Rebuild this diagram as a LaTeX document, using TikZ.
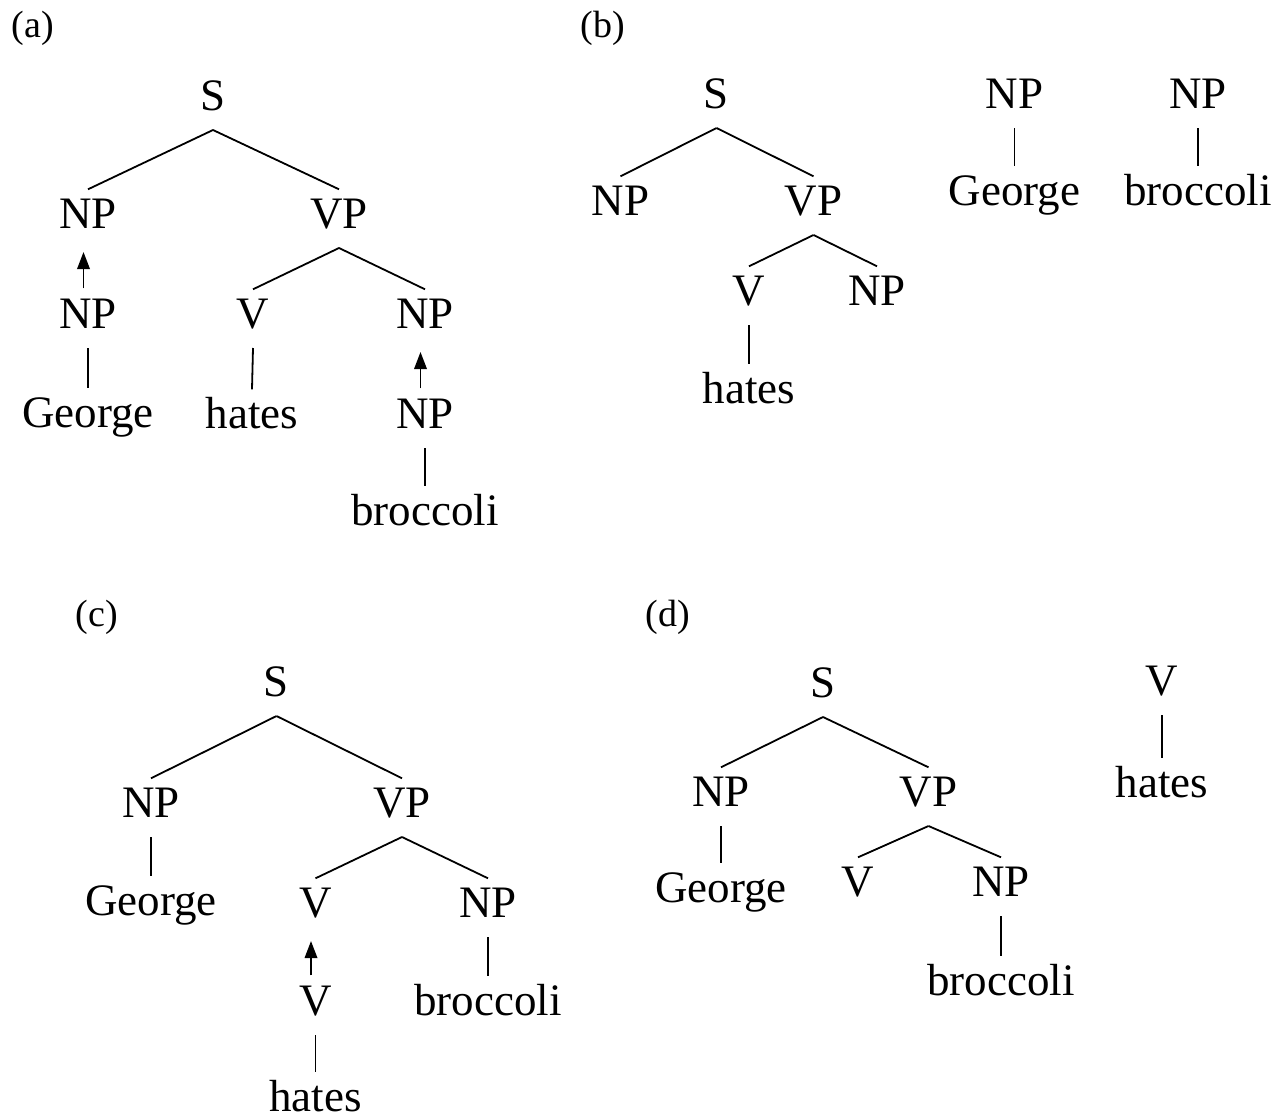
\documentclass[tikz,border=0pt]{standalone}
\usepackage{fontspec}
\setmainfont{Liberation Serif}
\usetikzlibrary{arrows.meta}
\tikzset{
  lab/.style={font=\fontsize{45}{50}\selectfont, inner sep=0pt, text height=29.5pt, text depth=0pt, anchor=base},
  plab/.style={font=\fontsize{38}{44}\selectfont, inner sep=0pt, anchor=base},
  tline/.style={line width=1.8pt},
  mvarrow/.style={line width=1.8pt, -{Triangle[length=17pt,width=12.5pt]}},
}
\newcommand\tbr[2]{\draw[tline] ([yshift=-20pt]#1.base) -- ([yshift=9pt]#2.north);}
\newcommand\tmv[2]{\draw[mvarrow] ([xshift=-4.5pt,yshift=10pt]#1.north) -- ([xshift=-4.5pt,yshift=-24pt]#2.base);}
\begin{document}
\begin{tikzpicture}[x=1pt,y=-1pt]
\useasboundingbox (0,0) rectangle (1274,1119);
% ---------- (a) ----------
\node[plab] (la) at (33,37) {(a)};
\node[lab] (Sa) at (213,110) {S};
\node[lab] (NPa1) at (88,228) {NP};
\node[lab] (VPa) at (339,228) {VP};
\node[lab] (NPa2) at (88,328) {NP};
\node[lab] (Va) at (253,328) {V};
\node[lab] (NPa3) at (425,328) {NP};
\node[lab] (Georgea) at (88,427) {George};
\node[lab] (hatesa) at (252,428) {hates};
\node[lab] (NPa4) at (425,428) {NP};
\node[lab] (broccolia) at (425,525) {broccoli};
\tbr{Sa}{NPa1}
\tbr{Sa}{VPa}
\tmv{NPa2}{NPa1}
\tbr{VPa}{Va}
\tbr{VPa}{NPa3}
\tbr{NPa2}{Georgea}
\tbr{Va}{hatesa}
\tmv{NPa4}{NPa3}
\tbr{NPa4}{broccolia}
% ---------- (b) ----------
\node[plab] (lb) at (603,37) {(b)};
\node[lab] (Sb) at (716.5,108) {S};
\node[lab] (NPb1) at (620.5,215) {NP};
\node[lab] (VPb) at (813.5,215) {VP};
\node[lab] (Vb) at (749,305) {V};
\node[lab] (NPb2) at (877,305) {NP};
\node[lab] (hatesb) at (749,403) {hates};
\node[lab] (NPb3) at (1014.5,108) {NP};
\node[lab] (Georgeb) at (1014.5,205) {George};
\node[lab] (NPb4) at (1198,108) {NP};
\node[lab] (broccolib) at (1198,205) {broccoli};
\tbr{Sb}{NPb1}
\tbr{Sb}{VPb}
\tbr{VPb}{Vb}
\tbr{VPb}{NPb2}
\tbr{Vb}{hatesb}
\tbr{NPb3}{Georgeb}
\tbr{NPb4}{broccolib}
% ---------- (c) ----------
\node[plab] (lc) at (97,626) {(c)};
\node[lab] (Sc) at (276.5,696) {S};
\node[lab] (NPc1) at (151,817) {NP};
\node[lab] (VPc) at (402,817) {VP};
\node[lab] (Georgec) at (151,915) {George};
\node[lab] (Vc1) at (315.5,917) {V};
\node[lab] (NPc2) at (488,917) {NP};
\node[lab] (Vc2) at (315.5,1015) {V};
\node[lab] (broccolic) at (488,1015) {broccoli};
\node[lab] (hatesc) at (315.5,1111) {hates};
\tbr{Sc}{NPc1}
\tbr{Sc}{VPc}
\tbr{NPc1}{Georgec}
\tbr{VPc}{Vc1}
\tbr{VPc}{NPc2}
\tmv{Vc2}{Vc1}
\tbr{NPc2}{broccolic}
\tbr{Vc2}{hatesc}
% ---------- (d) ----------
\node[plab] (ld) at (668,626) {(d)};
\node[lab] (Sd) at (823,697) {S};
\node[lab] (NPd1) at (721,806) {NP};
\node[lab] (VPd) at (928.5,806) {VP};
\node[lab] (Georged) at (721,902) {George};
\node[lab] (Vd) at (858,896) {V};
\node[lab] (NPd2) at (1001,896) {NP};
\node[lab] (broccolid) at (1001,995) {broccoli};
\node[lab] (Vd2) at (1162,695) {V};
\node[lab] (hatesd) at (1162,797) {hates};
\tbr{Sd}{NPd1}
\tbr{Sd}{VPd}
\tbr{NPd1}{Georged}
\tbr{VPd}{Vd}
\tbr{VPd}{NPd2}
\tbr{NPd2}{broccolid}
\tbr{Vd2}{hatesd}
\end{tikzpicture}
\end{document}
